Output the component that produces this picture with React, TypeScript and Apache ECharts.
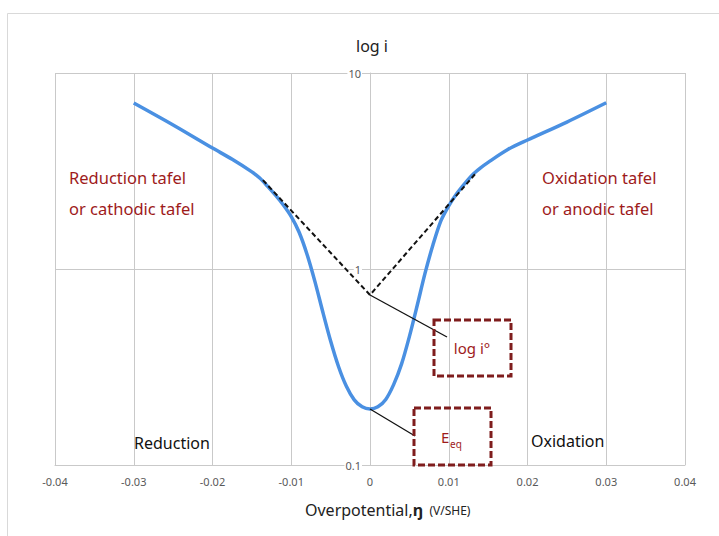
import React, { useEffect, useRef } from 'react';
import * as echarts from 'echarts';

// Curve: current density i (log axis) vs overpotential
const curveX = [
  -0.03, -0.025, -0.02, -0.0175, -0.015, -0.014, -0.013, -0.012, -0.011, -0.01,
  -0.009, -0.008, -0.007, -0.006, -0.005, -0.004, -0.003, -0.002, -0.001, 0,
  0.001, 0.002, 0.003, 0.004, 0.005, 0.006, 0.007, 0.008, 0.009, 0.01,
  0.011, 0.012, 0.013, 0.014, 0.015, 0.0175, 0.02, 0.025, 0.03,
];
const curveY = [
  7.03, 5.43, 4.14, 3.63, 3.13, 2.91, 2.64, 2.38, 2.12, 1.85,
  1.54, 1.19, 0.865, 0.605, 0.429, 0.318, 0.252, 0.215, 0.198, 0.193,
  0.198, 0.216, 0.257, 0.327, 0.452, 0.653, 0.955, 1.33, 1.76, 2.1,
  2.42, 2.72, 3.02, 3.27, 3.5, 4.07, 4.55, 5.62, 7.05,
];
// Tafel extrapolation (dashed)
const tafelX = [-0.0136, 0, 0.0135];
const tafelY = [2.84, 0.737, 3.1];
// Equilibrium point and exchange current point
const eqPoint = [0, 0.193];
const i0Point = [0, 0.737];

// Axis ticks
const xMin = -0.04;
const xMax = 0.04;
const xStep = 0.01;
const yTicks = [0.1, 1, 10];
const yTickLabels = ['0.1', '1', '10'];

const FONT = "'Noto Sans', 'Open Sans', sans-serif";
const RED_TEXT = '#9E1B1B';
const RED_BOX = '#7F1D1D';
const GRID = '#c9c9c9';

export default function App() {
  const ref = useRef<HTMLDivElement>(null);
  useEffect(() => {
    if (!ref.current) return;
    const chart = echarts.init(ref.current, null, { renderer: 'svg' });
    const gridLeft = 55;
    const gridRight = 34;
    const plotW = 719 - gridLeft - gridRight;
    const zeroOffset = ((0 - xMin) / (xMax - xMin)) * plotW;
    chart.setOption({
      animation: false,
      backgroundColor: '#ffffff',
      textStyle: { fontFamily: FONT },
      grid: { left: gridLeft, right: gridRight, top: 73, bottom: 71, containLabel: false },
      xAxis: {
        type: 'value',
        min: xMin,
        max: xMax,
        interval: xStep,
        axisLine: { onZero: false, lineStyle: { color: GRID } },
        axisTick: { show: false },
        axisLabel: {
          color: '#595959',
          fontSize: 11,
          margin: 11,
          formatter: (v: number) => String(Math.round(v * 100) / 100),
        },
        splitLine: { show: true, lineStyle: { color: GRID, width: 1 } },
      },
      yAxis: {
        type: 'log',
        logBase: 10,
        min: yTicks[0],
        max: yTicks[yTicks.length - 1],
        offset: -zeroOffset,
        axisLine: { show: true, onZero: false, lineStyle: { color: GRID } },
        axisTick: { show: false },
        axisLabel: { show: false },
        splitLine: { show: true, lineStyle: { color: GRID, width: 1 } },
      },
      series: [
        {
          type: 'line',
          data: curveX.map((x, i) => [x, curveY[i]]),
          smooth: 0.3,
          showSymbol: false,
          lineStyle: { color: '#4A90E2', width: 3.5 },
          z: 2,
        },
        {
          type: 'line',
          data: tafelX.map((x, i) => [x, tafelY[i]]),
          showSymbol: false,
          lineStyle: { color: '#111', width: 2, type: [5, 3] },
          z: 3,
        },
      ],
    });

    const toPx = (p: number[]) =>
      chart.convertToPixel({ xAxisIndex: 0, yAxisIndex: 0 }, p) as number[];
    const p0 = toPx(i0Point);
    const pe = toPx(eqPoint);

    const txt = (x: number, y: number, text: string, size: number, fill: string, align = 'left') => ({
      type: 'text',
      x,
      y,
      z: 10,
      style: { text, fill, font: `${size}px ${FONT}`, align, verticalAlign: 'middle' },
    });

    const yLabelEls = yTicks.map((v, i) => {
      const p = toPx([0, v]);
      const el = txt(p[0] - 8, p[1], yTickLabels[i], 11, '#595959', 'right');
      return { ...el, style: { ...el.style, backgroundColor: '#ffffff', padding: [0, 1] } };
    });

    chart.setOption({
      graphic: [
        {
          type: 'rect',
          shape: { x: 7.5, y: 13.5, width: 760, height: 560 },
          style: { fill: 'none', stroke: '#d9d9d9', lineWidth: 1 },
          silent: true,
          z: -1,
        },
        ...yLabelEls,
        txt(372, 46, 'log i', 16, '#222', 'center'),
        {
          type: 'line',
          shape: { x1: p0[0], y1: p0[1], x2: 447, y2: 337 },
          style: { stroke: '#111', lineWidth: 1.3 },
          z: 10,
        },
        {
          type: 'line',
          shape: { x1: pe[0], y1: pe[1], x2: 415, y2: 436 },
          style: { stroke: '#111', lineWidth: 1.3 },
          z: 10,
        },
        {
          type: 'rect',
          shape: { x: 434, y: 320, width: 77, height: 56 },
          style: { fill: 'none', stroke: RED_BOX, lineWidth: 3, lineDash: [7, 3] },
          z: 10,
        },
        {
          type: 'rect',
          shape: { x: 414, y: 408, width: 77, height: 57 },
          style: { fill: 'none', stroke: RED_BOX, lineWidth: 3, lineDash: [7, 3] },
          z: 10,
        },
        txt(472, 348, 'log i°', 15, RED_TEXT, 'center'),
        txt(441, 437, 'E', 15, RED_TEXT),
        txt(450, 444, 'eq', 10, RED_TEXT),
        txt(69, 177, 'Reduction tafel', 16.5, RED_TEXT),
        txt(69, 208, 'or cathodic tafel', 16.5, RED_TEXT),
        txt(542, 177, 'Oxidation tafel', 16.5, RED_TEXT),
        txt(542, 208, 'or anodic tafel', 16.5, RED_TEXT),
        txt(134, 443, 'Reduction', 16, '#111'),
        txt(531, 441, 'Oxidation', 16, '#111'),
        {
          type: 'text',
          x: 305,
          y: 510,
          style: {
            text: '{a|Overpotential,}{b|ŋ}{c|  (V/SHE)}',
            align: 'left',
            verticalAlign: 'middle',
            rich: {
              a: { fontSize: 16, fontFamily: FONT, fill: '#222', color: '#222' },
              b: { fontSize: 16, fontFamily: FONT, fontWeight: 'bold', fill: '#222', color: '#222' },
              c: { fontSize: 12, fontFamily: FONT, fill: '#222', color: '#222' },
            },
          },
        },
      ],
    });

    return () => chart.dispose();
  }, []);

  return (
    <div
      ref={ref}
      style={{ position: 'fixed', left: 0, top: 0, width: 719, height: 536, background: '#fff' }}
    />
  );
}
